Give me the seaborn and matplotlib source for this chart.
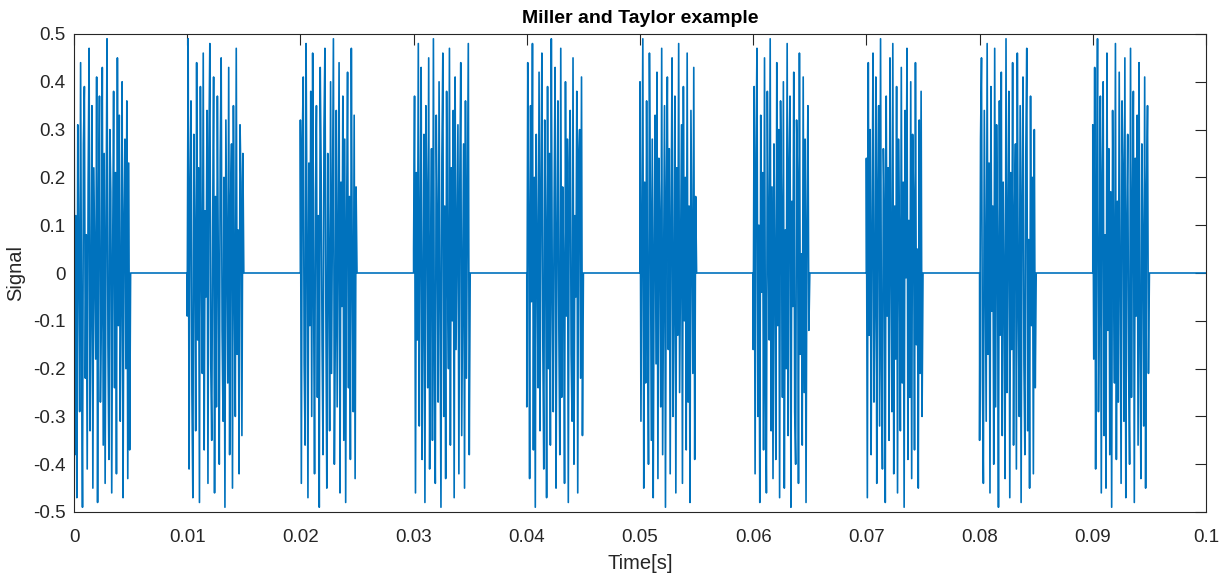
import numpy as np
import pandas as pd
import matplotlib
matplotlib.use("Agg")
import matplotlib.pyplot as plt
import seaborn as sns

title = "Miller and Taylor example"
xlabel = "Time[s]"
ylabel = "Signal"
burst_starts = [0.0, 0.01, 0.02, 0.03, 0.04, 0.05, 0.06, 0.07, 0.08, 0.09]
burst_duration = 0.005
t_end = 0.1
x_ticks = [0, 0.01, 0.02, 0.03, 0.04, 0.05, 0.06, 0.07, 0.08, 0.09, 0.1]
x_tick_labels = ["0", "0.01", "0.02", "0.03", "0.04", "0.05", "0.06", "0.07", "0.08", "0.09", "0.1"]
y_ticks = [-0.5, -0.4, -0.3, -0.2, -0.1, 0, 0.1, 0.2, 0.3, 0.4, 0.5]
y_tick_labels = ["-0.5", "-0.4", "-0.3", "-0.2", "-0.1", "0", "0.1", "0.2", "0.3", "0.4", "0.5"]

b0 = [0.46,-0.38,0.12,-0.47,0.31,0.05,-0.29,0.44,-0.12,-0.49,0.27,0.39,-0.22,0.08,-0.41,0.19,0.47,-0.33,-0.06,0.35,-0.45,0.22,0.02,-0.18,0.41,-0.48,0.14,0.37,-0.27,-0.09,0.43,-0.36,0.25,-0.44,0.09,0.49,-0.15,-0.39,0.30,0.17,-0.46,0.04,0.38,-0.24,0.21,-0.42,0.45,-0.11,0.33,-0.31,-0.03,0.40,-0.47,0.11,0.28,-0.20,0.36,-0.43,0.23,-0.37]
b1 = [-0.09,0.49,-0.41,0.18,0.36,-0.25,-0.47,0.29,0.07,-0.33,0.44,-0.14,0.22,-0.48,0.39,0.03,-0.21,0.46,-0.37,0.13,-0.05,0.34,-0.44,0.26,0.48,-0.19,-0.35,0.10,0.41,-0.46,0.16,-0.28,0.37,0.01,-0.40,0.24,0.45,-0.12,-0.31,0.20,-0.49,0.32,0.06,-0.23,0.43,-0.38,0.15,0.27,-0.45,0.35,-0.02,-0.30,0.47,-0.17,0.09,-0.42,0.31,0.19,-0.34,0.25]
b2 = [0.32,-0.44,0.27,0.41,-0.19,-0.36,0.48,0.08,-0.47,0.23,-0.11,0.38,-0.30,0.46,-0.04,-0.42,0.17,0.35,-0.26,0.12,-0.49,0.43,0.21,-0.15,-0.38,0.30,0.47,-0.08,-0.45,0.25,0.02,-0.33,0.40,-0.21,0.14,0.49,-0.40,-0.13,0.34,-0.28,0.06,0.44,-0.46,0.19,-0.07,0.37,-0.35,0.28,-0.48,0.11,0.42,-0.24,0.16,-0.39,0.47,-0.01,-0.29,0.33,-0.43,0.18]
b3 = [0.05,0.37,-0.46,0.21,-0.14,0.48,-0.32,0.09,0.43,-0.39,-0.07,0.29,-0.48,0.35,0.16,-0.24,0.45,-0.41,0.03,0.26,-0.35,0.49,-0.18,-0.44,0.33,0.11,-0.27,0.40,-0.05,-0.49,0.24,0.46,-0.30,0.14,-0.43,0.38,0.00,-0.20,0.47,-0.36,0.22,-0.10,0.34,-0.47,0.41,-0.16,0.08,0.31,-0.42,0.19,0.44,-0.34,-0.03,0.27,-0.45,0.36,-0.22,0.13,0.48,-0.38]
b4 = [-0.28,0.44,0.13,-0.43,0.35,-0.06,0.48,-0.37,0.20,-0.49,0.29,0.04,-0.24,0.42,-0.33,0.17,0.46,-0.15,-0.41,0.32,0.09,-0.47,0.39,-0.20,0.25,-0.36,0.49,-0.03,-0.29,0.15,0.43,-0.45,0.06,0.36,-0.12,-0.38,0.47,-0.26,0.18,0.01,-0.44,0.40,-0.09,0.28,-0.48,0.23,0.34,-0.17,-0.31,0.45,-0.40,0.12,-0.05,0.38,-0.46,0.24,0.30,-0.22,0.41,-0.34]
b5 = [0.40,-0.31,0.07,0.49,-0.45,0.19,-0.23,0.36,-0.08,-0.40,0.46,0.15,-0.35,0.28,-0.47,0.04,0.33,-0.19,0.42,-0.43,0.24,0.10,-0.28,0.47,-0.38,-0.02,0.35,-0.49,0.18,0.41,-0.16,0.26,-0.42,0.12,0.45,-0.30,-0.06,0.37,-0.46,0.22,-0.13,0.48,-0.25,0.03,0.31,-0.44,0.39,-0.10,0.20,-0.37,0.46,-0.27,0.14,-0.48,0.34,0.08,-0.21,0.43,-0.39,0.16]
b6 = [-0.16,0.39,-0.42,0.25,0.47,-0.30,0.10,-0.48,0.33,-0.04,0.21,-0.37,0.45,-0.22,-0.46,0.38,0.06,-0.14,0.49,-0.33,0.18,-0.43,0.27,0.02,-0.39,0.44,-0.11,0.30,-0.47,0.36,0.13,-0.26,0.40,-0.45,0.09,-0.20,0.48,-0.34,0.23,0.37,-0.49,0.15,-0.07,0.42,-0.29,-0.40,0.32,0.20,-0.44,0.46,-0.17,0.04,-0.36,0.41,-0.25,0.28,-0.48,0.11,0.35,-0.12]
b7 = [0.24,-0.47,0.44,-0.13,0.30,-0.38,0.08,0.46,-0.27,-0.05,0.41,-0.44,0.17,0.35,-0.32,0.49,-0.20,-0.41,0.26,0.12,-0.48,0.37,-0.09,0.22,-0.35,0.45,0.03,-0.29,0.48,-0.42,0.14,-0.18,0.39,-0.46,0.28,0.07,-0.33,0.43,-0.23,0.19,-0.49,0.34,-0.01,0.47,-0.39,0.11,-0.26,0.40,-0.43,0.29,0.16,-0.37,0.44,-0.15,0.05,-0.45,0.32,-0.21,0.38,-0.30]
b8 = [-0.35,0.28,0.45,-0.22,-0.44,0.34,0.01,-0.31,0.48,-0.17,0.23,-0.46,0.39,-0.08,0.14,-0.40,0.47,-0.28,0.31,0.05,-0.49,0.36,-0.13,0.42,-0.34,0.19,-0.02,-0.43,0.49,-0.25,0.09,0.38,-0.47,0.21,-0.16,0.44,-0.36,0.12,0.27,-0.41,0.46,-0.06,-0.30,0.35,-0.48,0.16,0.41,-0.19,-0.38,0.25,0.47,-0.33,0.07,-0.45,0.37,-0.11,0.20,-0.42,0.30,-0.24]
b9 = [0.31,-0.18,0.43,-0.41,0.12,0.49,-0.29,-0.06,0.37,-0.46,0.21,0.40,-0.34,0.08,-0.45,0.46,-0.12,0.26,-0.38,0.17,-0.49,0.34,0.03,-0.23,0.48,-0.39,0.15,-0.27,0.42,-0.03,-0.44,0.36,0.22,-0.31,0.45,-0.47,0.10,0.29,-0.19,-0.40,0.47,-0.26,0.13,0.38,-0.48,0.24,-0.09,0.33,-0.36,0.44,-0.14,-0.43,0.27,0.06,-0.32,0.41,-0.45,0.18,0.35,-0.21]
bursts = [b0, b1, b2, b3, b4, b5, b6, b7, b8, b9]

# assemble the gated signal: zero, burst samples, zero, flat until the next burst
ts, ys = [], []
for start, vals in zip(burst_starts, bursts):
    n = len(vals)
    ts.append(start)
    ys.append(0.0)
    ts.extend(start + np.arange(n) * burst_duration / n)
    ys.extend(vals)
    ts.append(start + burst_duration)
    ys.append(0.0)
ts.append(t_end)
ys.append(0.0)
df = pd.DataFrame({"t": ts, "y": ys})

sns.set_style("white")
plt.rcParams["font.family"] = ["Liberation Sans", "DejaVu Sans"]
axc = "#262626"

fig = plt.figure(figsize=(12.25, 5.74), dpi=100)
ax = fig.add_axes([74/1225, 1-512/574, (1206-74)/1225, (512-34)/574])
sns.lineplot(data=df, x="t", y="y", estimator=None, sort=False, ax=ax,
             color="#0072BD", linewidth=1.2)
ax.set_xlim(0, 0.1)
ax.set_ylim(-0.5, 0.5)
ax.set_xticks(x_ticks)
ax.set_xticklabels(x_tick_labels)
ax.set_yticks(y_ticks)
ax.set_yticklabels(y_tick_labels)
ax.tick_params(direction="in", length=8, width=0.8, colors=axc, labelsize=13.5,
               top=True, right=True)
ax.tick_params(axis="x", pad=12)
ax.tick_params(axis="y", pad=6)
for s in ax.spines.values():
    s.set_visible(True)
    s.set_color(axc)
    s.set_linewidth(0.8)
ax.set_xlabel(xlabel, fontsize=14.5, color=axc, labelpad=6)
ax.set_ylabel(ylabel, fontsize=14.5, color=axc, labelpad=6)
ax.set_title(title, fontsize=14, fontweight="bold", color="black", pad=8)
fig.savefig("out.png", dpi=100)
